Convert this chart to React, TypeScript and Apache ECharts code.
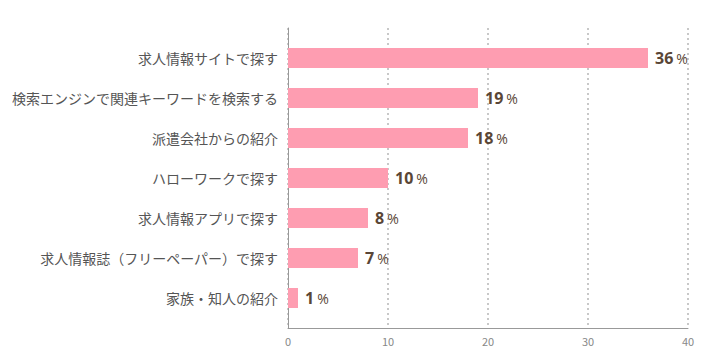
import React, { useEffect, useRef } from "react";
import * as echarts from "echarts";

const categories = [
  "求人情報サイトで探す",
  "検索エンジンで関連キーワードを検索する",
  "派遣会社からの紹介",
  "ハローワークで探す",
  "求人情報アプリで探す",
  "求人情報誌（フリーペーパー）で探す",
  "家族・知人の紹介",
];
const values = [36, 19, 18, 10, 8, 7, 1];
const xTicks = { min: 0, max: 40, interval: 10 };

export default function App() {
  const ref = useRef<HTMLDivElement>(null);
  useEffect(() => {
    if (!ref.current) return;
    const chart = echarts.init(ref.current, undefined, { renderer: "svg" });
    const jp = '"Noto Sans CJK JP", "Noto Sans", sans-serif';
    chart.setOption({
      animation: false,
      backgroundColor: "#ffffff",
      grid: [
        { left: 288, right: 36, top: 28, bottom: 24 },
        { left: 288, right: 36, top: 38, bottom: 34 },
      ],
      xAxis: [
        {
          gridIndex: 0,
          type: "value",
          min: xTicks.min,
          max: xTicks.max,
          interval: xTicks.interval,
          axisLine: { show: true, lineStyle: { color: "#999999", width: 1 } },
          axisTick: { show: false },
          axisLabel: { color: "#888888", fontSize: 11, fontFamily: jp, margin: 7 },
          splitLine: {
            show: true,
            lineStyle: { color: "#c8c8c8", type: [2, 3], width: 2 },
          },
        },
        {
          gridIndex: 1,
          type: "value",
          min: xTicks.min,
          max: xTicks.max,
          show: false,
        },
      ],
      yAxis: [
        {
          gridIndex: 0,
          type: "value",
          min: 0,
          max: 1,
          axisLine: { show: true, lineStyle: { color: "#999999", width: 1 } },
          axisTick: { show: false },
          axisLabel: { show: false },
          splitLine: { show: false },
        },
        {
          gridIndex: 1,
          type: "category",
          inverse: true,
          data: categories,
          axisLine: { show: false },
          axisTick: { show: false },
          splitLine: { show: false },
          axisLabel: { color: "#555555", fontSize: 14, fontFamily: jp, margin: 10 },
        },
      ],
      series: [
        {
          type: "bar",
          xAxisIndex: 1,
          yAxisIndex: 1,
          data: values,
          barWidth: 20,
          itemStyle: { color: "#fe9db1" },
          label: {
            show: true,
            position: "right",
            distance: 7,
            formatter: (p: any) => `{n|${p.value}}{p|%}`,
            rich: {
              n: {
                fontSize: 16,
                fontWeight: "bold",
                color: "#5a4636",
                fontFamily: '"Open Sans", Lato, sans-serif',
              },
              p: {
                fontSize: 14,
                color: "#5a4636",
                fontFamily: '"Open Sans", Lato, sans-serif',
                padding: [1, 0, 0, 3],
              },
            },
          },
        },
      ],
    });
    return () => chart.dispose();
  }, []);
  return (
    <div
      ref={ref}
      style={{ position: "fixed", left: 0, top: 0, width: 724, height: 352 }}
    />
  );
}
